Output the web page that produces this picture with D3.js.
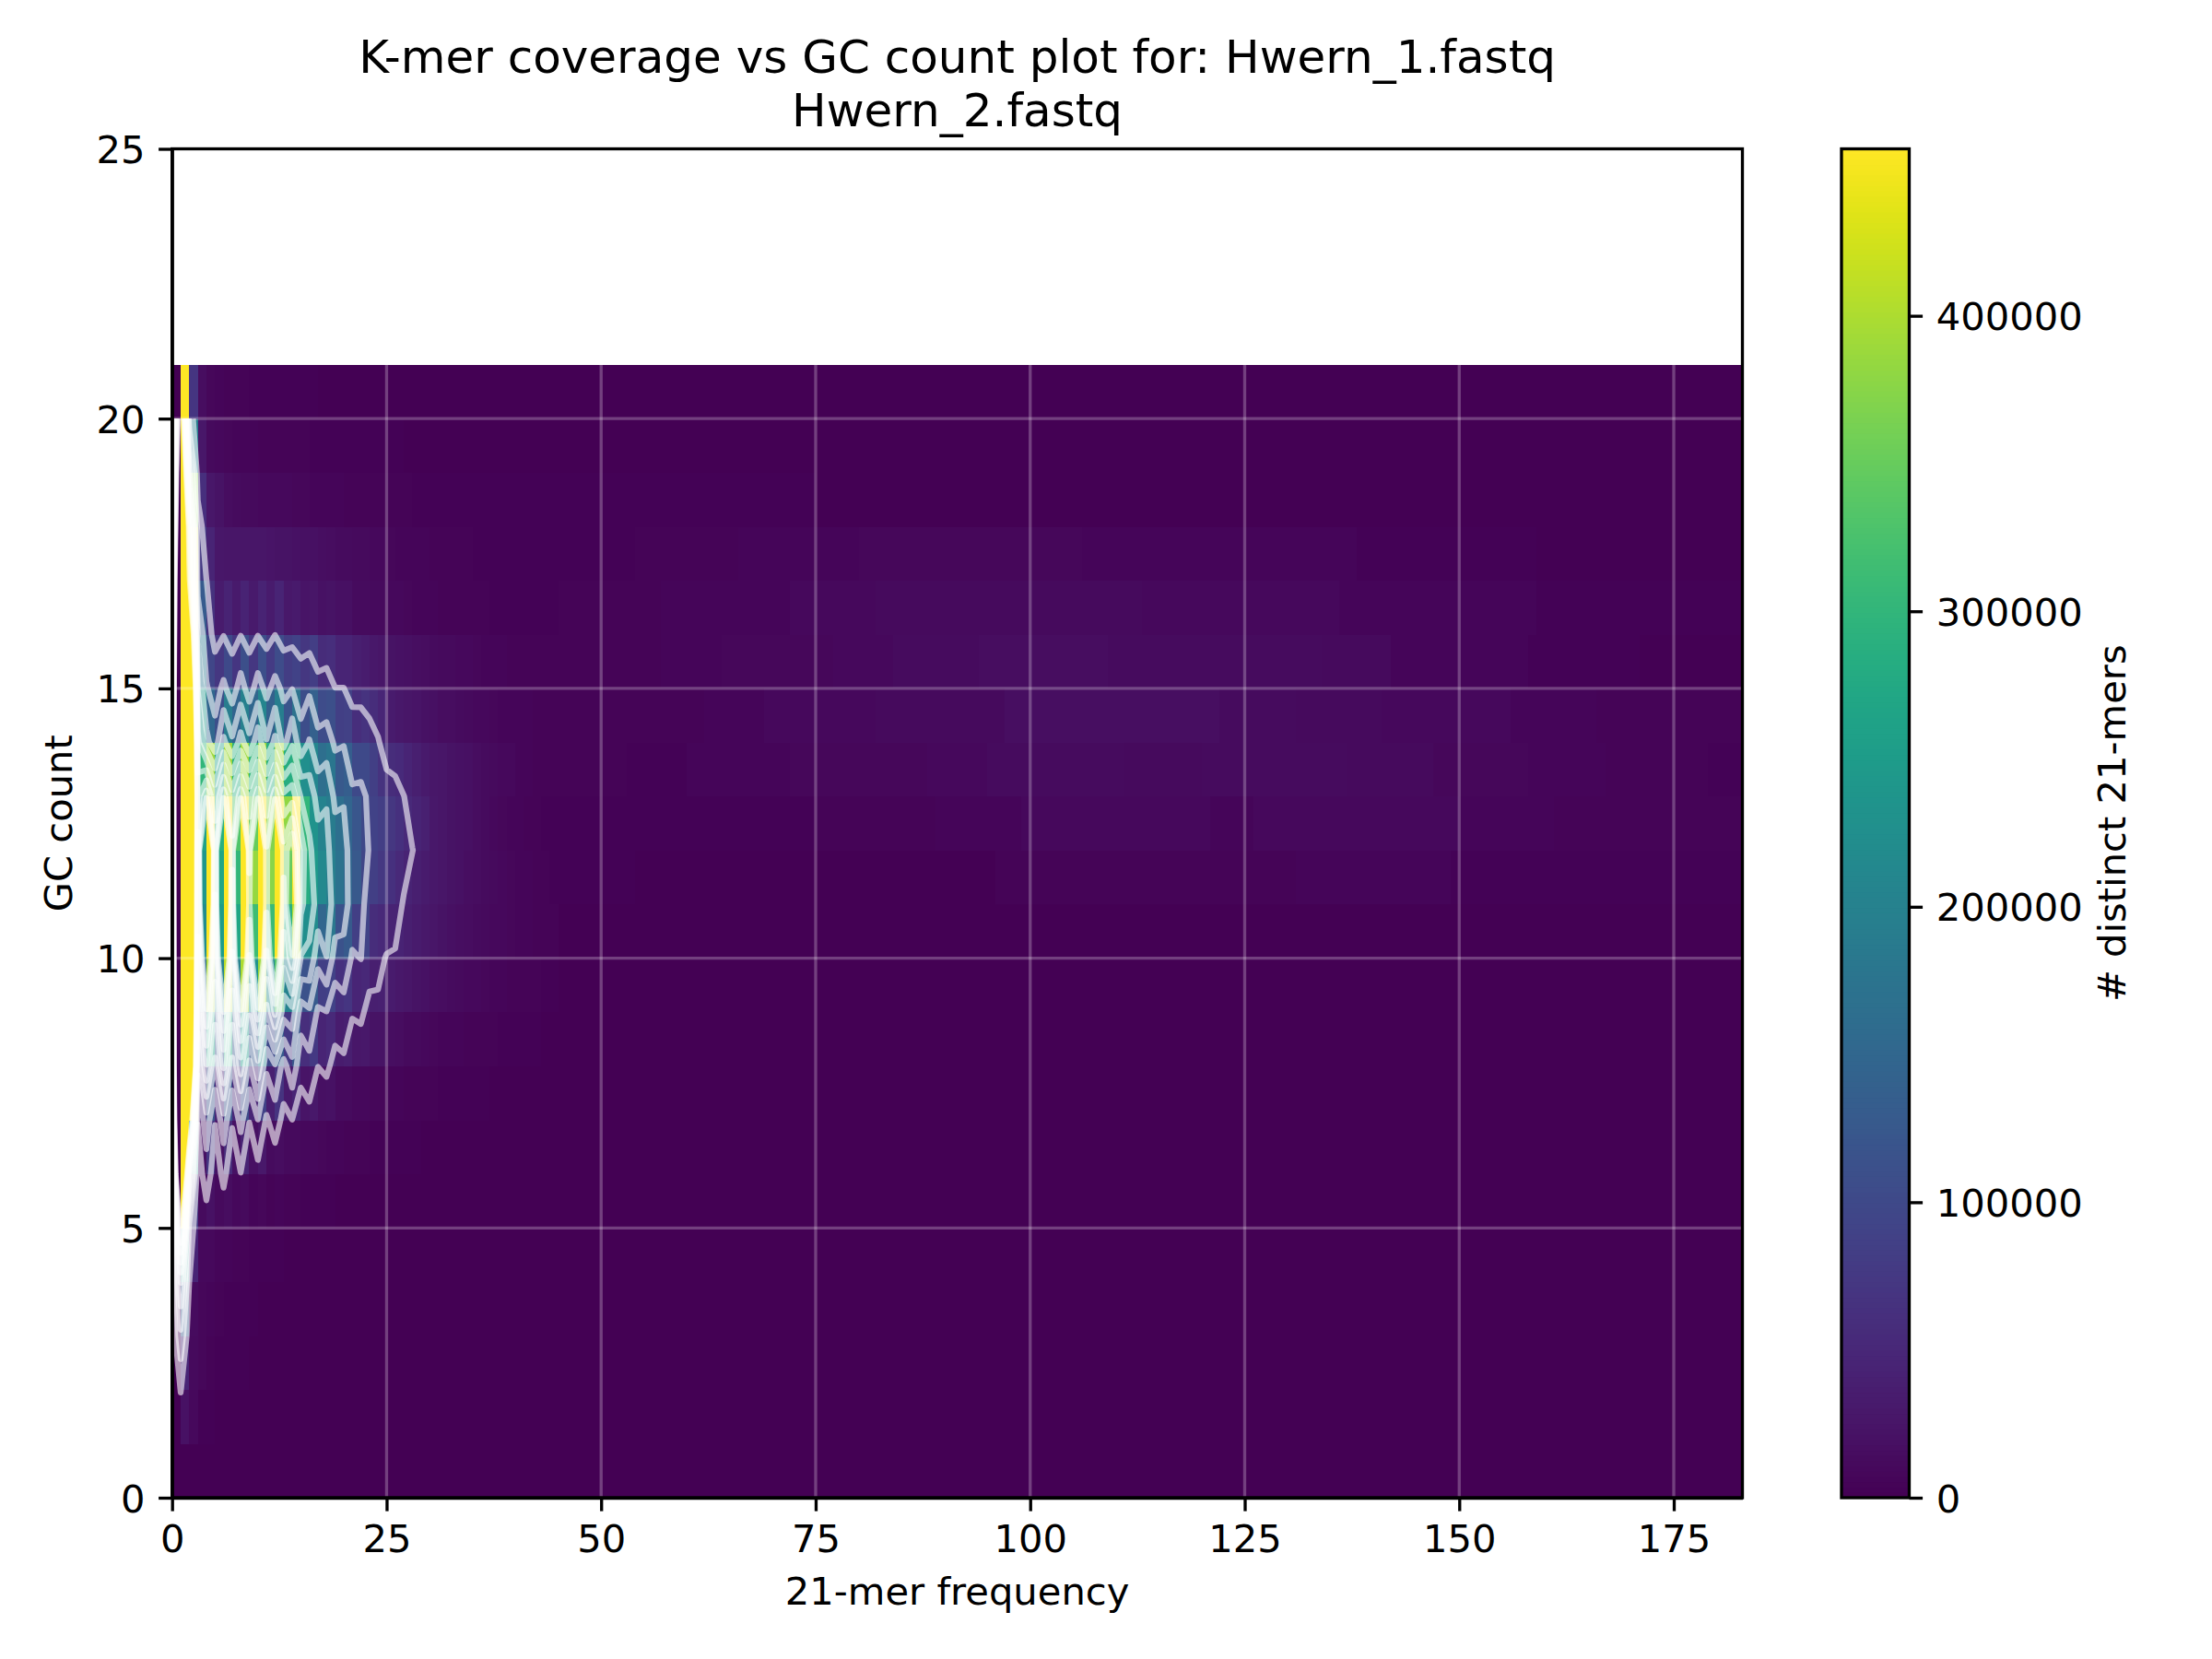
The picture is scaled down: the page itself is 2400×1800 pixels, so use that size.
<!DOCTYPE html>
<html>
<head>
<meta charset="utf-8">
<script src="https://cdn.jsdelivr.net/npm/d3@7"></script>
<style>
html, body { margin: 0; padding: 0; background: #fff; }
svg { display: block; }
text { font-family: "DejaVu Sans", sans-serif; fill: #000; }
</style>
</head>
<body>
<svg id="chart" width="2400" height="1800"></svg>
<script>
// distinct k-mers, in thousands. gcN = row for GC count N, index = 21-mer frequency
const gc0 = [];
const gc1 = [0,20,10,3,2,1];
const gc2 = [0,47,12,8,5,3,3,2,2,1];
const gc3 = [0,125,13,8,6,4,3,3,2,2,1];
const gc4 = [0,230,46,10,9,7,6,5,4,3,3,2,2,1];
const gc5 = [0,480,77,14,20,11,15,9,11,7,8,5,6,4,4,3,3,2,2,1];
const gc6 = [0,950,230,20,70,22,56,20,44,18,30,13,15,11,12,9,10,8,7,6,5,4,4,3,3,3,2,2,2,1,1];
const gc7 = [0,1450,600,48,116,48,118,50,105,47,90,40,68,33,45,24,30,18,20,13,14,10,10,8,8,6,6,5,5,4,4,3,3,3,2,2,2,1];
const gc8 = [0,1800,1400,100,270,125,280,125,250,125,210,100,130,75,122,60,76,46,52,35,38,28,30,22,22,17,16,12,12,10,8,7,6,6,5,5,4,4,3,3,2,2,2,1,1];
const gc9 = [0,1900,1700,160,400,200,410,200,400,235,390,215,330,200,210,115,130,85,90,63,70,48,50,38,41,33,30,25,23,20,17,15,13,11,10,9,8,7,6,5,5,4,4,3,3];
const gc10 = [0,2000,1800,220,600,250,700,270,700,315,650,310,560,290,400,225,220,150,182,115,128,85,92,58,52,44,44,38,33,29,25,22,19,17,15,13,12,10,9,8,7,6,5,4,4];
const gc11 = [0,2100,1900,240,1000,270,1100,300,1100,385,1000,375,850,350,560,285,245,215,195,172,148,125,95,85,74,64,53,44,38,33,29,26,23,20,17,15,13,11,9,8,7,6,5,4,3];
const gc12 = [0,2200,1900,260,1100,290,1100,330,1050,350,950,370,800,380,460,300,235,205,190,165,148,122,100,90,83,72,63,53,46,40,30,26,23,20,18,15,13,10,8,7,6,5,4,3,3];
const gc13 = [0,2200,1800,300,390,260,390,290,390,300,390,290,390,285,300,225,210,165,180,125,134,100,100,85,66,58,55,46,38,32,28,25,22,20,18,16,14,12,10,9,7,6,5,5,4];
const gc14 = [0,2000,1600,240,150,110,192,145,199,150,210,140,193,120,174,106,140,104,110,85,88,60,67,58,48,33,30,26,24,21,18,16,15,13,12,10,9,8,7,7,6,6,5,5,4];
const gc15 = [0,1800,1100,180,95,72,100,70,110,72,110,80,105,82,90,72,83,57,60,46,46,38,34,30,25,23,21,19,17,15,13,12,11,10,9,8,7,6,6,5,5,5,4,4,4];
const gc16 = [0,1500,700,130,65,33,44,32,44,32,44,33,45,30,32,24,26,20,22,18,18,14,14,12,11,10,9,8,7,7,6,5,5,5,4,4,4,3,3,3,3,3,3,3,3];
const gc17 = [0,1300,430,75,46,28,26,26,25,25,25,24,23,22,21,19,18,17,15,14,13,12,11,10,9,8,7,7,6,6,5,5,4,4,4,3,3,3,3,3,3,3,3,3,3];
const gc18 = [0,1000,370,62,28,22,15,13,12,11,10,10,9,9,8,8,7,7,6,6,5,5,5,5,4,4,4,4,3,3,3,3,3,2,2,2,2,2,2,2,2,2,2,2,2];
const gc19 = [0,800,190,28,12,10,8,7,6,6,5,5,5,4,4,4,3,3,3,3,2,2,2,2,2,2,2,1,1,1,1];
const gc20 = [0,600,70,15,8,6,5,4,4,3,3,3,2,2,2,2,2,1,1,1,1];

// long tail: [first frequency, value] runs, picks up where the gc row above ends
const tail9 = [[44,0.3]];
const tail10 = [[44,0.7],[100,1.5],[170,0.5]];
const tail11 = [[44,2],[54,0.5],[75,1],[96,4],[120,5],[131,5.5],[149,3],[163,2]];
const tail12 = [[44,2],[75,5],[89,7],[99,9],[121,7],[126,9],[150,6],[161,4]];
const tail13 = [[44,4],[53,3],[60,6],[72,8],[88,10],[95,13],[111,12],[120,14],[137,11],[147,8],[158,7],[167,5],[179,2]];
const tail14 = [[44,5],[62,7],[69,9],[82,11],[89,12],[97,17],[122,13],[131,12],[141,9],[156,6],[166,5]];
const tail15 = [[44,5],[57,6],[64,8],[77,10],[84,13],[94,16],[109,13],[126,14],[134,11],[142,7],[158,3],[171,1]];
const tail16 = [[44,4],[57,6],[72,9],[82,12],[113,9],[136,6],[159,2]];
const tail17 = [[44,3],[54,5],[66,6],[80,8],[106,6],[138,3],[159,1]];
const tail18 = [[44,2.5],[75,1.5],[120,0.5]];
const tail19 = [[31,1],[80,0.5]];
const tail20 = [[21,0.5]];

const gcRows = [gc0,gc1,gc2,gc3,gc4,gc5,gc6,gc7,gc8,gc9,gc10,gc11,gc12,gc13,gc14,gc15,gc16,gc17,gc18,gc19,gc20];
const gcTails = {9:tail9,10:tail10,11:tail11,12:tail12,13:tail13,14:tail14,15:tail15,16:tail16,17:tail17,18:tail18,19:tail19,20:tail20};

const contourLevels = [45.6,91.2,136.8,182.4,228,273.6,319.2,364.8,410.4];
const xTicks = [0,25,50,75,100,125,150,175];
const yTicks = [0,5,10,15,20,25];
const barTicks = [0,100000,200000,300000,400000];
const titleLines = ["K-mer coverage vs GC count plot for: Hwern_1.fastq", "Hwern_2.fastq"];
const zMax = 456500, nFreq = 183, nGc = 21;

const svg = d3.select("#chart");
const axL = 186.7, axR = 1890.5, axB = 1625, axT = 161.5;
const sw = 3.33, tickLen = 14.6, fs = 41.67;

const x = d3.scaleLinear().domain([0, nFreq]).range([axL, axR]);
const y = d3.scaleLinear().domain([0, 25]).range([axB, axT]);
const color = d3.scaleSequential(d3.interpolateViridis).domain([0, zMax]).clamp(true);

// flat grid of values, row by row
function cell(g, f) {
    const row = gcRows[g];
    if (f < row.length) return row[f] * 1000;
    const runs = gcTails[g];
    if (!runs) return 0;
    let v = 0;
    runs.forEach(r => { if (f >= r[0]) v = r[1]; });
    return v * 1000;
}
const values = [];
d3.range(nGc).forEach(g => d3.range(nFreq).forEach(f => values.push(cell(g, f))));

// heat map
svg.append("g").selectAll("rect")
    .data(values)
    .enter().append("rect")
    .attr("x", (d, i) => x(i % nFreq))
    .attr("y", (d, i) => y(Math.floor(i / nFreq) + 1))
    .attr("width", x(1) - x(0) + 0.3)
    .attr("height", y(0) - y(1) + 0.3)
    .attr("fill", d => color(d))
    .attr("shape-rendering", "crispEdges");

// contours: d3 puts value i at i + 0.5, the original draws them at i
const contours = d3.contours().size([nFreq, nGc])
    .thresholds(contourLevels.map(d => d * 1000))(values);
const topEdge = nGc - 0.5 + 1e-6;

function contourPath(c) {
    const p = d3.path();
    c.coordinates.forEach(poly => poly.forEach(ring => {
        let pen = false;
        ring.forEach(pt => {
            // the grid edge is not a contour, the line stops at the last row
            if (pt[1] > topEdge) { pen = false; return; }
            const px = x(pt[0] - 0.5), py = y(pt[1] - 0.5);
            if (pen) p.lineTo(px, py); else p.moveTo(px, py);
            pen = true;
        });
    }));
    return p.toString();
}

svg.append("g").selectAll("path")
    .data(contours)
    .enter().append("path")
    .attr("d", contourPath)
    .attr("fill", "none")
    .attr("stroke", "#fff")
    .attr("stroke-opacity", 0.6)
    .attr("stroke-width", 6.25)
    .attr("stroke-linejoin", "round");

// grid
const grid = svg.append("g").attr("stroke", "#fff").attr("stroke-opacity", 0.25).attr("stroke-width", sw);
grid.selectAll(".gx").data(xTicks.slice(1)).enter().append("line")
    .attr("x1", d => x(d)).attr("x2", d => x(d)).attr("y1", axB).attr("y2", y(nGc));
grid.selectAll(".gy").data(yTicks.slice(1, -1)).enter().append("line")
    .attr("x1", axL).attr("x2", axR).attr("y1", d => y(d)).attr("y2", d => y(d));

// axes
function styleAxis(a) {
    a.selectAll("path").attr("stroke", "#000").attr("stroke-width", sw);
    a.selectAll("line").attr("stroke", "#000").attr("stroke-width", sw);
    a.selectAll("text").style("font-family", "DejaVu Sans").style("font-size", fs + "px").attr("fill", "#000");
}
svg.append("g").attr("transform", `translate(0,${axB})`)
    .call(d3.axisBottom(x).tickValues(xTicks).tickSize(tickLen).tickPadding(14.6).tickSizeOuter(0))
    .call(styleAxis);
svg.append("g").attr("transform", `translate(${axL},0)`)
    .call(d3.axisLeft(y).tickValues(yTicks).tickSize(tickLen).tickPadding(14.6).tickSizeOuter(0))
    .call(styleAxis)
    .call(a => a.selectAll("text").attr("dy", "0.36em"));
svg.append("rect").attr("x", axL).attr("y", axT).attr("width", axR - axL).attr("height", axB - axT)
    .attr("fill", "none").attr("stroke", "#000").attr("stroke-width", sw);

// titles
svg.selectAll(".title").data(titleLines).enter().append("text")
    .attr("x", (axL + axR) / 2).attr("y", (d, i) => 79 + i * 58)
    .attr("text-anchor", "middle").style("font-size", "50px").text(d => d);
svg.append("text").attr("x", (axL + axR) / 2).attr("y", 1741)
    .attr("text-anchor", "middle").style("font-size", fs + "px").text("21-mer frequency");
svg.append("text").attr("transform", `translate(78,${(axT + axB) / 2}) rotate(-90)`)
    .attr("text-anchor", "middle").style("font-size", fs + "px").text("GC count");

// colour bar
const barL = 1998, barR = 2071.5;
const barY = d3.scaleLinear().domain([0, zMax]).range([axB, axT]);
const barSteps = d3.range(256).map(i => i / 256 * zMax);
svg.append("g").selectAll("rect").data(barSteps).enter().append("rect")
    .attr("x", barL).attr("width", barR - barL)
    .attr("y", d => barY(d + zMax / 256) - 0.5)
    .attr("height", barY(0) - barY(zMax / 256) + 1)
    .attr("fill", d => color(d));
svg.append("g").attr("transform", `translate(${barR},0)`)
    .call(d3.axisRight(barY).tickValues(barTicks).tickFormat(d3.format("d")).tickSize(tickLen).tickPadding(14.6).tickSizeOuter(0))
    .call(styleAxis)
    .call(a => a.select(".domain").remove())
    .call(a => a.selectAll("text").attr("dy", "0.36em"));
svg.append("rect").attr("x", barL).attr("y", axT).attr("width", barR - barL).attr("height", axB - axT)
    .attr("fill", "none").attr("stroke", "#000").attr("stroke-width", sw);
svg.append("text").attr("transform", `translate(2306,${(axT + axB) / 2}) rotate(-90)`)
    .attr("text-anchor", "middle").style("font-size", fs + "px").text("# distinct 21-mers");
</script>
</body>
</html>
